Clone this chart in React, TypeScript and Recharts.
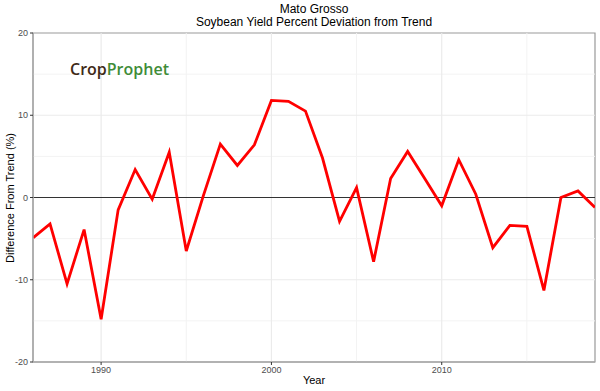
import React from "react";
import { LineChart, Line, XAxis, YAxis, ReferenceLine, ReferenceArea } from "recharts";

const years = [1986, 1987, 1988, 1989, 1990, 1991, 1992, 1993, 1994, 1995, 1996, 1997, 1998, 1999, 2000, 2001, 2002, 2003, 2004, 2005, 2006, 2007, 2008, 2009, 2010, 2011, 2012, 2013, 2014, 2015, 2016, 2017, 2018, 2019];
const deviation = [-4.9, -3.2, -10.5, -3.9, -14.8, -1.5, 3.4, -0.2, 5.5, -6.5, 0.2, 6.5, 3.9, 6.4, 11.8, 11.7, 10.5, 4.8, -2.9, 1.2, -7.8, 2.3, 5.6, 2.3, -1.0, 4.6, 0.4, -6.1, -3.4, -3.5, -11.3, 0.0, 0.8, -1.2];
const xTicks = [1990, 2000, 2010];
const xMinorGrid = [1995, 2005, 2015];
const yTicks = [-20, -10, 0, 10, 20];
const yMajorGrid = [-10, 10];
const yMinorGrid = [-15, -5, 5, 15];
const titleLines = ["Mato Grosso", "Soybean Yield Percent Deviation from Trend"];

const data = years.map((y, i) => ({ year: y, value: deviation[i] }));

const tickStyle = { fontSize: 9, fill: "#4d4d4d", fontFamily: "Liberation Sans, Arial, sans-serif" };

export default function App() {
  return (
    <div style={{ position: "absolute", left: 0, top: 0, width: 600, height: 391, background: "#fff", fontFamily: "Liberation Sans, Arial, sans-serif" }}>
      <LineChart width={600} height={391} data={data} margin={{ top: 33, right: 5, left: 0, bottom: 0 }}>
        <XAxis
          dataKey="year"
          type="number"
          domain={[1986, 2019]}
          ticks={xTicks}
          allowDataOverflow
          height={29}
          tick={tickStyle}
          tickSize={3}
          tickLine={{ stroke: "#333" }}
          axisLine={{ stroke: "#aaa", strokeWidth: 1.5 }}
        />
        <YAxis
          type="number"
          domain={[-20, 20]}
          ticks={yTicks}
          allowDataOverflow
          width={33}
          tick={tickStyle}
          tickSize={3}
          tickLine={{ stroke: "#333" }}
          axisLine={{ stroke: "#aaa", strokeWidth: 1.5 }}
        />
        {xMinorGrid.map((x) => (
          <ReferenceLine key={"xm" + x} x={x} stroke="#f3f3f3" strokeWidth={1} />
        ))}
        {yMinorGrid.map((y) => (
          <ReferenceLine key={"ym" + y} y={y} stroke="#f3f3f3" strokeWidth={1} />
        ))}
        {xTicks.map((x) => (
          <ReferenceLine key={"xM" + x} x={x} stroke="#ebebeb" strokeWidth={1.2} />
        ))}
        {yMajorGrid.map((y) => (
          <ReferenceLine key={"yM" + y} y={y} stroke="#ebebeb" strokeWidth={1.2} />
        ))}
        <ReferenceArea x1={1986} x2={2019} y1={-20} y2={20} fill="none" stroke="#999" strokeWidth={1.2} ifOverflow="visible" />
        <ReferenceLine y={0} stroke="#333" strokeWidth={1.2} />
        <Line type="linear" dataKey="value" stroke="#ff0000" strokeWidth={2.8} dot={false} isAnimationActive={false} />
      </LineChart>
      <div style={{ position: "absolute", left: 33, width: 562, top: 3, textAlign: "center", fontSize: 12, lineHeight: "13px", color: "#000" }}>
        {titleLines.map((t) => (
          <div key={t}>{t}</div>
        ))}
      </div>
      <div style={{ position: "absolute", left: 33, width: 562, top: 374, textAlign: "center", fontSize: 11, color: "#000" }}>Year</div>
      <div
        style={{
          position: "absolute",
          left: 10,
          top: 198,
          transform: "translate(-50%, -50%) rotate(-90deg)",
          whiteSpace: "nowrap",
          fontSize: 11,
          color: "#000",
        }}
      >
        Difference From Trend (%)
      </div>
      <div style={{ position: "absolute", left: 70, top: 58, fontSize: 16, fontWeight: 600, letterSpacing: 0, fontFamily: "Open Sans, sans-serif", whiteSpace: "nowrap" }}>
        <span style={{ color: "#3f2a17" }}>Crop</span>
        <span style={{ color: "#3f8c38" }}>Prophet</span>
      </div>
    </div>
  );
}
